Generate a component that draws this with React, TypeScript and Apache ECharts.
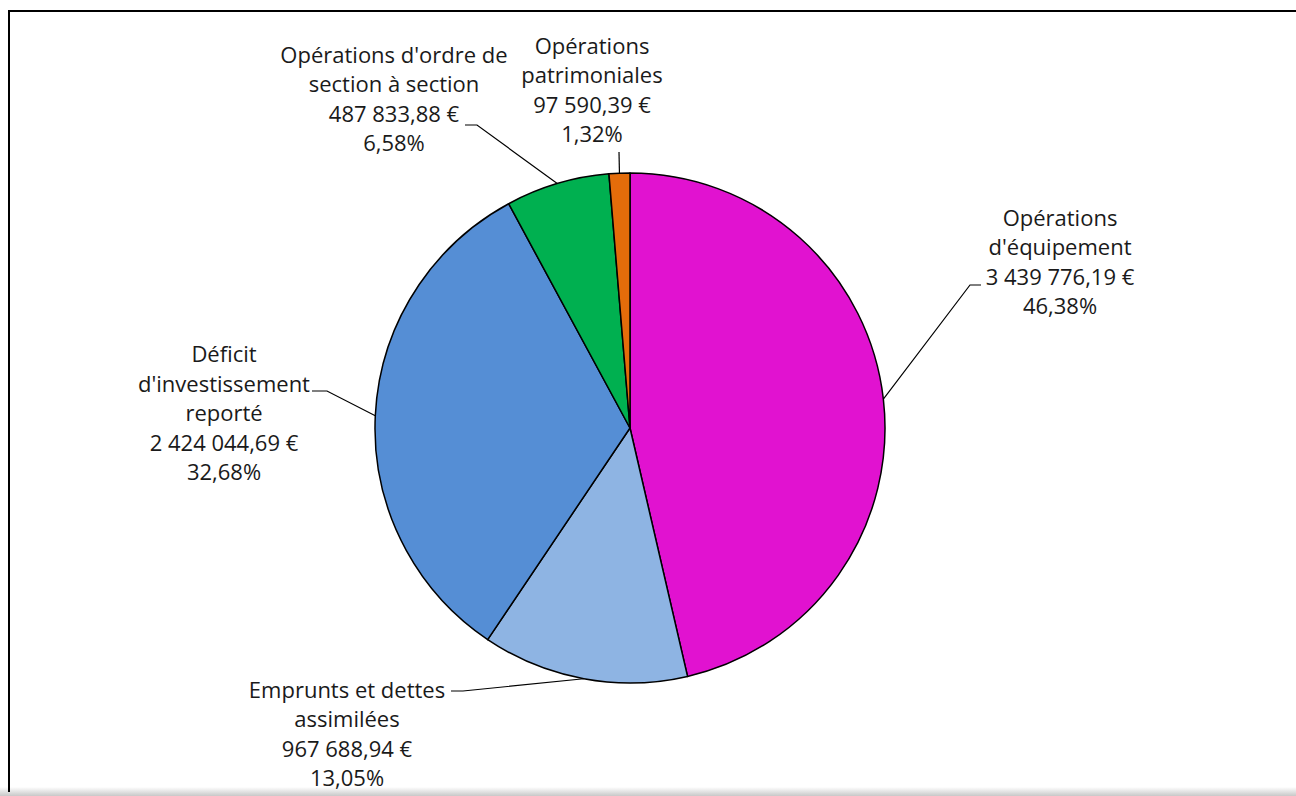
import React, { useEffect, useRef } from "react";
import * as echarts from "echarts";

const categories = [
  "Opérations\nd'équipement",
  "Emprunts et dettes\nassimilées",
  "Déficit\nd'investissement\nreporté",
  "Opérations d'ordre de\nsection à section",
  "Opérations\npatrimoniales",
];
const values = [3439776.19, 967688.94, 2424044.69, 487833.88, 97590.39];
const colors = ["#E112D0", "#8EB4E3", "#558ED5", "#00B050", "#E46C0A"];

// label placement (centre of text block) and leader-line bends, in pixels
const labelPos = [
  { x: 1060, y: 261, bend: [[970, 285], [981, 285]] },
  { x: 347, y: 733, bend: [[463, 691], [451, 691]] },
  { x: 224, y: 412, bend: [[327, 391], [312, 391]] },
  { x: 394, y: 98, bend: [[477, 125], [465, 125]] },
  { x: 592, y: 89, bend: [[619, 152]] },
];

const CX = 630;
const CY = 428;
const R = 255;

function fmtEuro(v: number): string {
  const [int, dec] = v.toFixed(2).split(".");
  const grouped = int.replace(/\B(?=(\d{3})+(?!\d))/g, " ");
  return grouped + "," + dec + " €";
}

export default function App() {
  const ref = useRef<HTMLDivElement>(null);
  useEffect(() => {
    if (!ref.current) return;
    const chart = echarts.init(ref.current, undefined, { renderer: "svg" });
    const total = values.reduce((a, b) => a + b, 0);
    const cum: number[] = [];
    let acc = 0;
    values.forEach((v) => {
      cum.push(acc + v / 2);
      acc += v;
    });
    chart.setOption({
      animation: false,
      backgroundColor: "#ffffff",
      graphic: [
        {
          type: "rect",
          shape: { x: 0, y: 787, width: 1296, height: 9 },
          style: {
            fill: new echarts.graphic.LinearGradient(0, 0, 0, 1, [
              { offset: 0, color: "rgba(255,255,255,1)" },
              { offset: 1, color: "rgba(200,200,200,1)" },
            ]),
          },
          silent: true,
        },
        {
          type: "polyline",
          shape: { points: [[9, 792], [9, 11], [1296, 11]] },
          style: { stroke: "#000", lineWidth: 2, fill: "none" },
          silent: true,
        },
      ],
      series: [
        {
          type: "pie",
          center: [CX, CY],
          radius: R,
          startAngle: 90,
          clockwise: true,
          data: categories.map((c, i) => ({
            name: c,
            value: values[i],
            itemStyle: { color: colors[i] },
          })),
          itemStyle: { borderColor: "#000", borderWidth: 1.5 },
          emphasis: { disabled: true },
          label: {
            show: true,
            position: "outside",
            formatter: (p: any) =>
              p.name +
              "\n" +
              fmtEuro(p.value) +
              "\n" +
              ((p.value / total) * 100).toFixed(2).replace(".", ",") +
              "%",
            fontFamily: "Open Sans",
            fontSize: 22,
            lineHeight: 29.5,
            color: "#1a1a1a",
            align: "center",
          },
          labelLine: {
            show: true,
            lineStyle: { color: "#000", width: 1.2 },
          },
          labelLayout: (params: any) => {
            const i = params.dataIndex;
            const ang = (cum[i] / total) * Math.PI * 2;
            const ex = CX + R * Math.sin(ang);
            const ey = CY - R * Math.cos(ang);
            const lp = labelPos[i];
            return {
              x: lp.x,
              y: lp.y,
              align: "center",
              verticalAlign: "middle",
              labelLinePoints: [[ex, ey], ...lp.bend],
            };
          },
        },
      ],
    });
    return () => chart.dispose();
  }, []);
  return (
    <div
      ref={ref}
      style={{ position: "fixed", left: 0, top: 0, width: 1296, height: 796 }}
    />
  );
}
